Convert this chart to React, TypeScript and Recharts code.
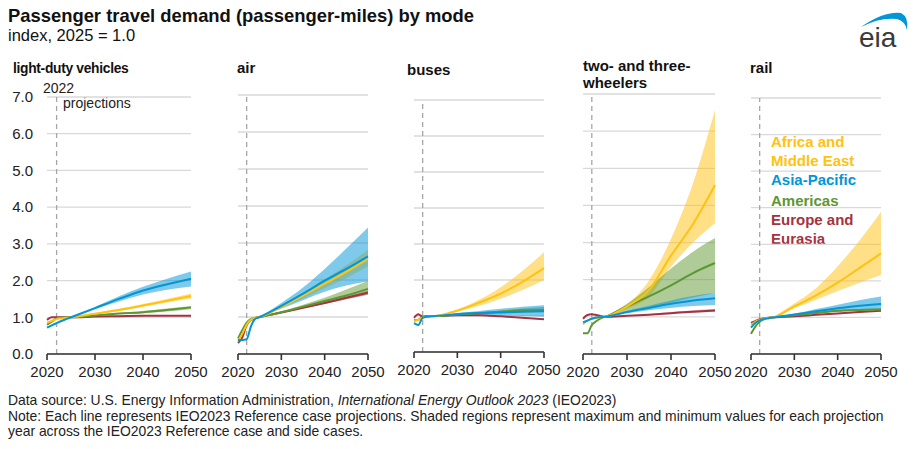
import React from 'react';
import { ComposedChart, Line, Area, XAxis, YAxis, CartesianGrid, ReferenceLine } from 'recharts';

const FONT = '"Liberation Sans", Arial, Helvetica, sans-serif';

const YELLOW = '#FFC20E';
const BLUE = '#0096D7';
const GREEN = '#5D9732';
const RED = '#A33340';

// years of the series and of the projection bands
const years = [2020, 2021, 2022, 2023, 2024, 2025, 2030, 2035, 2040, 2045, 2050];
const bandYears = [2025, 2030, 2035, 2040, 2045, 2050];
const xTicks = [2020, 2030, 2040, 2050];
const yTicks = [0, 1, 2, 3, 4, 5, 6, 7];

// light-duty vehicles
const ldvAfr = [0.85, 0.9, 0.95, 0.97, 0.99, 1.0, 1.1, 1.2, 1.32, 1.45, 1.58];
const ldvAfrLo = [1.0, 1.08, 1.17, 1.28, 1.4, 1.51];
const ldvAfrHi = [1.0, 1.12, 1.23, 1.36, 1.5, 1.65];
const ldvAsia = [0.72, 0.78, 0.84, 0.9, 0.95, 1.0, 1.25, 1.5, 1.73, 1.9, 2.05];
const ldvAsiaLo = [1.0, 1.22, 1.43, 1.62, 1.75, 1.84];
const ldvAsiaHi = [1.0, 1.28, 1.57, 1.83, 2.05, 2.25];
const ldvAm = [0.8, 0.88, 0.97, 0.99, 1.0, 1.0, 1.05, 1.1, 1.14, 1.2, 1.27];
const ldvAmLo = [1.0, 1.04, 1.08, 1.11, 1.16, 1.22];
const ldvAmHi = [1.0, 1.06, 1.12, 1.17, 1.24, 1.31];
const ldvEu = [0.93, 1.0, 1.0, 1.0, 1.0, 1.0, 1.02, 1.03, 1.04, 1.04, 1.04];
const ldvEuLo = [1.0, 1.01, 1.02, 1.03, 1.03, 1.03];
const ldvEuHi = [1.0, 1.03, 1.04, 1.05, 1.05, 1.06];

// air
const airAfr = [0.35, 0.55, 0.8, 0.93, 0.98, 1.0, 1.27, 1.58, 1.9, 2.22, 2.58];
const airAfrLo = [1.0, 1.25, 1.5, 1.78, 2.05, 2.37];
const airAfrHi = [1.0, 1.3, 1.65, 2.02, 2.4, 2.82];
const airAsia = [0.38, 0.38, 0.4, 0.75, 0.95, 1.0, 1.3, 1.63, 1.98, 2.3, 2.64];
const airAsiaLo = [1.0, 1.22, 1.45, 1.68, 1.85, 1.96];
const airAsiaHi = [1.0, 1.38, 1.8, 2.3, 2.85, 3.42];
const airAm = [0.42, 0.65, 0.85, 0.95, 0.98, 1.0, 1.13, 1.28, 1.43, 1.58, 1.76];
const airAmLo = [1.0, 1.12, 1.24, 1.36, 1.48, 1.6];
const airAmHi = [1.0, 1.15, 1.33, 1.52, 1.74, 1.97];
const airEu = [0.3, 0.45, 0.78, 0.92, 0.97, 1.0, 1.12, 1.25, 1.38, 1.52, 1.66];
const airEuLo = [1.0, 1.11, 1.23, 1.35, 1.48, 1.61];
const airEuHi = [1.0, 1.13, 1.27, 1.41, 1.56, 1.71];

// buses
const busAfr = [0.85, 0.9, 0.95, 0.98, 0.99, 1.0, 1.15, 1.37, 1.62, 1.95, 2.33];
const busAfrLo = [1.0, 1.12, 1.28, 1.48, 1.72, 2.0];
const busAfrHi = [1.0, 1.18, 1.45, 1.8, 2.25, 2.77];
const busAsia = [0.8, 0.75, 0.95, 0.98, 0.99, 1.0, 1.05, 1.08, 1.1, 1.12, 1.13];
const busAsiaLo = [1.0, 1.02, 1.02, 1.01, 1.0, 0.98];
const busAsiaHi = [1.0, 1.08, 1.14, 1.2, 1.26, 1.3];
const busAm = [0.88, 0.9, 0.97, 0.99, 1.0, 1.0, 1.04, 1.08, 1.12, 1.16, 1.17];
const busAmLo = [1.0, 1.03, 1.06, 1.09, 1.12, 1.12];
const busAmHi = [1.0, 1.05, 1.1, 1.15, 1.21, 1.25];
const busEu = [0.95, 1.05, 0.98, 1.0, 1.0, 1.0, 1.02, 1.02, 0.99, 0.95, 0.91];
const busEuLo = [1.0, 1.01, 1.01, 0.98, 0.94, 0.9];
const busEuHi = [1.0, 1.03, 1.03, 1.0, 0.96, 0.92];

// two- and three-wheelers
const twAfr = [0.8, 0.9, 0.95, 0.97, 0.99, 1.0, 1.28, 1.72, 2.65, 3.5, 4.55];
const twAfrLo = [1.0, 1.22, 1.55, 2.35, 3.0, 3.52];
const twAfrHi = [1.0, 1.33, 1.98, 3.1, 4.6, 6.57];
const twAsia = [0.85, 0.9, 0.95, 0.98, 0.99, 1.0, 1.13, 1.24, 1.35, 1.44, 1.5];
const twAsiaLo = [1.0, 1.1, 1.18, 1.24, 1.29, 1.32];
const twAsiaHi = [1.0, 1.16, 1.3, 1.44, 1.56, 1.64];
const twAm = [0.56, 0.56, 0.78, 0.88, 0.96, 1.0, 1.28, 1.55, 1.85, 2.18, 2.45];
const twAmLo = [1.0, 1.15, 1.25, 1.38, 1.52, 1.64];
const twAmHi = [1.0, 1.35, 1.8, 2.3, 2.75, 3.12];
const twEu = [0.95, 1.05, 1.07, 1.05, 1.02, 1.0, 1.03, 1.06, 1.1, 1.14, 1.17];
const twEuLo = [1.0, 1.02, 1.05, 1.08, 1.11, 1.14];
const twEuHi = [1.0, 1.04, 1.08, 1.13, 1.18, 1.22];

// rail
const railAfr = [0.8, 0.88, 0.93, 0.97, 0.99, 1.0, 1.3, 1.6, 1.95, 2.35, 2.75];
const railAfrLo = [1.0, 1.25, 1.48, 1.72, 1.95, 2.16];
const railAfrHi = [1.0, 1.38, 1.8, 2.4, 3.1, 3.89];
const railAsia = [0.72, 0.85, 0.92, 0.96, 0.98, 1.0, 1.08, 1.17, 1.25, 1.32, 1.37];
const railAsiaLo = [1.0, 1.06, 1.12, 1.16, 1.19, 1.2];
const railAsiaHi = [1.0, 1.1, 1.23, 1.35, 1.47, 1.57];
const railAm = [0.55, 0.75, 0.88, 0.95, 0.98, 1.0, 1.06, 1.12, 1.18, 1.2, 1.22];
const railAmLo = [1.0, 1.04, 1.1, 1.16, 1.18, 1.2];
const railAmHi = [1.0, 1.08, 1.14, 1.2, 1.23, 1.25];
const railEu = [0.85, 0.9, 0.95, 0.98, 0.99, 1.0, 1.03, 1.07, 1.11, 1.15, 1.18];
const railEuLo = [1.0, 1.02, 1.06, 1.1, 1.14, 1.17];
const railEuHi = [1.0, 1.04, 1.08, 1.12, 1.16, 1.19];

type S = { mid: number[]; lo: number[]; hi: number[] };

function buildRows(afr: S, asia: S, am: S, eu: S) {
  return years.map((year, i) => {
    const b = bandYears.indexOf(year);
    const row: any = { year, afr: afr.mid[i], asia: asia.mid[i], am: am.mid[i], eu: eu.mid[i] };
    if (b >= 0) {
      row.afrR = [afr.lo[b], afr.hi[b]];
      row.asiaR = [asia.lo[b], asia.hi[b]];
      row.amR = [am.lo[b], am.hi[b]];
      row.euR = [eu.lo[b], eu.hi[b]];
    }
    return row;
  });
}

const ldvRows = buildRows(
  { mid: ldvAfr, lo: ldvAfrLo, hi: ldvAfrHi },
  { mid: ldvAsia, lo: ldvAsiaLo, hi: ldvAsiaHi },
  { mid: ldvAm, lo: ldvAmLo, hi: ldvAmHi },
  { mid: ldvEu, lo: ldvEuLo, hi: ldvEuHi }
);
const airRows = buildRows(
  { mid: airAfr, lo: airAfrLo, hi: airAfrHi },
  { mid: airAsia, lo: airAsiaLo, hi: airAsiaHi },
  { mid: airAm, lo: airAmLo, hi: airAmHi },
  { mid: airEu, lo: airEuLo, hi: airEuHi }
);
const busRows = buildRows(
  { mid: busAfr, lo: busAfrLo, hi: busAfrHi },
  { mid: busAsia, lo: busAsiaLo, hi: busAsiaHi },
  { mid: busAm, lo: busAmLo, hi: busAmHi },
  { mid: busEu, lo: busEuLo, hi: busEuHi }
);
const twRows = buildRows(
  { mid: twAfr, lo: twAfrLo, hi: twAfrHi },
  { mid: twAsia, lo: twAsiaLo, hi: twAsiaHi },
  { mid: twAm, lo: twAmLo, hi: twAmHi },
  { mid: twEu, lo: twEuLo, hi: twEuHi }
);
const railRows = buildRows(
  { mid: railAfr, lo: railAfrLo, hi: railAfrHi },
  { mid: railAsia, lo: railAsiaLo, hi: railAsiaHi },
  { mid: railAm, lo: railAmLo, hi: railAmHi },
  { mid: railEu, lo: railEuLo, hi: railEuHi }
);

type PanelProps = { rows: any[]; x0: number; x1: number; yTop: number; yBot: number; showY?: boolean };

function Panel({ rows, x0, x1, yTop, yBot, showY }: PanelProps) {
  const mTop = 12;
  const mRight = 20;
  const xAxisH = 30;
  const yAxisW = 42;
  const mLeft = showY ? 0 : 20;
  const leftPad = showY ? yAxisW : mLeft;
  const width = x1 - x0 + leftPad + mRight;
  const height = yBot - yTop + mTop + xAxisH;
  const bandOp = 0.5;
  return (
    <div style={{ position: 'absolute', left: x0 - leftPad, top: yTop - mTop }}>
      <ComposedChart width={width} height={height} data={rows} margin={{ top: mTop, right: mRight, left: mLeft, bottom: 0 }}>
        <CartesianGrid vertical={false} stroke="#d9d9d9" strokeWidth={1.3} />
        <XAxis
          type="number"
          dataKey="year"
          domain={[2020, 2050]}
          ticks={xTicks}
          height={xAxisH}
          interval={0}
          axisLine={{ stroke: '#333', strokeWidth: 1.6 }}
          tickLine={{ stroke: '#333', strokeWidth: 1.6 }}
          tickSize={6}
          tickMargin={6}
          tick={{ fill: '#222', fontSize: 15, fontFamily: FONT }}
        />
        <YAxis
          type="number"
          domain={[0, 7]}
          ticks={yTicks}
          interval={0}
          hide={!showY}
          width={yAxisW}
          axisLine={false}
          tickLine={false}
          tickSize={6}
          tickMargin={8}
          tickFormatter={(v: number) => v.toFixed(1)}
          tick={{ fill: '#222', fontSize: 15, fontFamily: FONT }}
        />
        <ReferenceLine x={2022} stroke="#a6a6a6" strokeWidth={1.3} strokeDasharray="5 4" />
        <Area dataKey="afrR" type="monotone" stroke="none" fill={YELLOW} fillOpacity={bandOp} isAnimationActive={false} activeDot={false} />
        <Area dataKey="amR" type="monotone" stroke="none" fill={GREEN} fillOpacity={bandOp} isAnimationActive={false} activeDot={false} />
        <Area dataKey="asiaR" type="monotone" stroke="none" fill={BLUE} fillOpacity={bandOp} isAnimationActive={false} activeDot={false} />
        <Area dataKey="euR" type="monotone" stroke="none" fill={RED} fillOpacity={0.35} isAnimationActive={false} activeDot={false} />
        <Line dataKey="eu" type="monotone" stroke={RED} strokeWidth={2} dot={false} isAnimationActive={false} />
        <Line dataKey="am" type="monotone" stroke={GREEN} strokeWidth={2} dot={false} isAnimationActive={false} />
        <Line dataKey="afr" type="monotone" stroke={YELLOW} strokeWidth={2} dot={false} isAnimationActive={false} />
        <Line dataKey="asia" type="monotone" stroke={BLUE} strokeWidth={2} dot={false} isAnimationActive={false} />
      </ComposedChart>
    </div>
  );
}

export default function App() {
  const t = { fontFamily: FONT };
  return (
    <div style={{ position: 'absolute', left: 0, top: 0, width: 922, height: 449, background: '#fff', overflow: 'hidden' }}>
      <svg width={922} height={449} style={{ position: 'absolute', left: 0, top: 0 }}>
        <g style={t}>
          <text x={8} y={22} fontSize={18.4} fontWeight="bold" fill="#111">Passenger travel demand (passenger-miles) by mode</text>
          <text x={8} y={41} fontSize={16.5} fill="#111">index, 2025 = 1.0</text>

          <text x={13} y={73} fontSize={13.8} letterSpacing={-0.3} fontWeight="bold" fill="#111">light-duty vehicles</text>
          <text x={237} y={73} fontSize={15} fontWeight="bold" fill="#111">air</text>
          <text x={407} y={75} fontSize={15} fontWeight="bold" fill="#111">buses</text>
          <text x={583} y={71} fontSize={15} fontWeight="bold" fill="#111">two- and three-</text>
          <text x={583} y={88} fontSize={15} fontWeight="bold" fill="#111">wheelers</text>
          <text x={750} y={73} fontSize={15} fontWeight="bold" fill="#111">rail</text>

          <text x={43} y={93} fontSize={14} fill="#222">2022</text>
          <text x={63} y={108} fontSize={14} fill="#222">projections</text>

          <text x={771} y={147} fontSize={15} fontWeight="bold" fill={YELLOW}>Africa and</text>
          <text x={771} y={166} fontSize={15} fontWeight="bold" fill={YELLOW}>Middle East</text>
          <text x={771} y={185} fontSize={15} fontWeight="bold" fill={BLUE}>Asia-Pacific</text>
          <text x={771} y={206} fontSize={15} fontWeight="bold" fill={GREEN}>Americas</text>
          <text x={771} y={225} fontSize={15} fontWeight="bold" fill={RED}>Europe and</text>
          <text x={771} y={244} fontSize={15} fontWeight="bold" fill={RED}>Eurasia</text>

          <text x={8} y={405} fontSize={13.9} fill="#222">
            Data source: U.S. Energy Information Administration, <tspan fontStyle="italic">International Energy Outlook 2023</tspan> (IEO2023)
          </text>
          <text x={8} y={421} fontSize={13.9} fill="#222">
            Note: Each line represents IEO2023 Reference case projections. Shaded regions represent maximum and minimum values for each projection
          </text>
          <text x={8} y={436} fontSize={13.9} fill="#222">year across the IEO2023 Reference case and side cases.</text>

          <path d="M861,27 Q884,11 901,13 Q909,17 907,30 Q905,21 897,19 Q880,17 861,27 Z" fill={BLUE} />
          <text x={859} y={47} fontSize={28} fill="#3a3a3a">eia</text>
        </g>
      </svg>

      <Panel rows={ldvRows} x0={47} x1={191} yTop={97} yBot={354} showY />
      <Panel rows={airRows} x0={238} x1={368} yTop={95} yBot={354} />
      <Panel rows={busRows} x0={414} x1={544} yTop={100} yBot={352} />
      <Panel rows={twRows} x0={583} x1={715} yTop={94} yBot={354} />
      <Panel rows={railRows} x0={751} x1={881} yTop={98} yBot={354} />
    </div>
  );
}
